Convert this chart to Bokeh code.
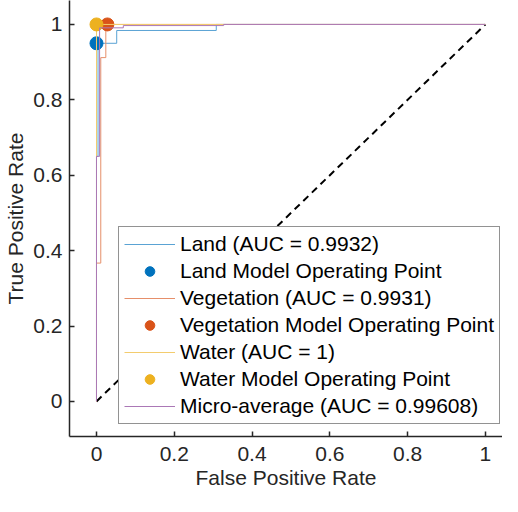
from bokeh.plotting import figure
from bokeh.models import Range1d, Legend, LegendItem, FixedTicker
from bokeh.embed import file_html
from bokeh.resources import INLINE

# ROC curve data
land_fpr = [0, 0, 0.004, 0.004, 0.052, 0.052, 0.308, 0.308, 1]
land_tpr = [0, 0.65, 0.65, 0.95, 0.95, 0.984, 0.984, 1, 1]
veg_fpr = [0, 0, 0.011, 0.011, 0.024, 0.024, 1]
veg_tpr = [0, 0.367, 0.367, 0.912, 0.912, 1, 1]
water_fpr = [0, 0, 1]
water_tpr = [0, 1, 1]
micro_fpr = [0, 0, 0.008, 0.008, 0.069, 0.069, 0.327, 0.327, 1]
micro_tpr = [0, 0.65, 0.65, 0.991, 0.991, 0.997, 0.997, 1, 1]

# model operating points
op_fpr = [0.0, 0.028, 0.0]
op_tpr = [0.95, 1.0, 1.0]

chance_x = [0, 1]
chance_y = [0, 1]

curve_labels = ["Land (AUC = 0.9932)", "Vegetation (AUC = 0.9931)",
                "Water (AUC = 1)", "Micro-average (AUC = 0.99608)"]
point_labels = ["Land Model Operating Point", "Vegetation Model Operating Point",
                "Water Model Operating Point"]
ticks = [0, 0.2, 0.4, 0.6, 0.8, 1]
tick_labels = ["0", "0.2", "0.4", "0.6", "0.8", "1"]

point_colors = ["#0072BD", "#D95319", "#EDB120"]
line_colors = ["#5AA3D4", "#E68F6A", "#F3CC6E", "#AB78B6"]
FONT = "Liberation Sans"
AXC = "#262626"

p = figure(width=502, height=496, output_backend="svg", toolbar_location=None,
           x_range=Range1d(-0.0694, 1.044), y_range=Range1d(-0.093, 1.0635),
           min_border_left=69, min_border_right=0, min_border_top=0,
           min_border_bottom=60)
p.outline_line_color = None
p.grid.visible = False
p.background_fill_color = "white"

p.line(chance_x, chance_y, line_color="black", line_width=2, line_dash="7 5")

curves = [(land_fpr, land_tpr), (veg_fpr, veg_tpr), (water_fpr, water_tpr)]
items = []
for i, (fx, ty) in enumerate(curves):
    r = p.line(fx, ty, line_color=line_colors[i], line_width=1)
    s = p.scatter([op_fpr[i]], [op_tpr[i]], size=13, marker="circle",
                  fill_color=point_colors[i], line_color=point_colors[i])
    items.append(LegendItem(label=curve_labels[i], renderers=[r]))
    items.append(LegendItem(label=point_labels[i], renderers=[s]))
rm = p.line(micro_fpr, micro_tpr, line_color=line_colors[3], line_width=1)
items.append(LegendItem(label=curve_labels[3], renderers=[rm]))

for ax in (p.xaxis[0], p.yaxis[0]):
    ax.ticker = FixedTicker(ticks=ticks)
    ax.major_label_overrides = {t: l for t, l in zip(ticks, tick_labels)}
    ax.minor_tick_line_color = None
    ax.major_tick_in = 5
    ax.major_tick_out = 0
    ax.axis_line_color = AXC
    ax.axis_line_width = 1.5
    ax.major_tick_line_color = AXC
    ax.major_tick_line_width = 1.5
    ax.major_label_text_font = FONT
    ax.major_label_text_font_size = "21px"
    ax.major_label_text_color = AXC
    ax.axis_label_text_font = FONT
    ax.axis_label_text_font_size = "21px"
    ax.axis_label_text_font_style = "normal"
    ax.axis_label_text_color = AXC

p.xaxis.axis_label = "False Positive Rate"
p.yaxis.axis_label = "True Positive Rate"
p.xaxis.major_label_standoff = 10
p.yaxis.major_label_standoff = 7
p.xaxis.axis_label_standoff = 2
p.yaxis.axis_label_standoff = 3

legend = Legend(items=items, location=(49, 12), margin=0, padding=5, spacing=3,
                glyph_width=51, glyph_height=24, label_height=24, label_standoff=5,
                label_text_font=FONT, label_text_font_size="21px",
                label_text_color="black", border_line_color=AXC,
                border_line_width=1.5, background_fill_color="white",
                background_fill_alpha=1.0)
p.add_layout(legend)

open("out.html", "w").write(file_html(p, INLINE))
